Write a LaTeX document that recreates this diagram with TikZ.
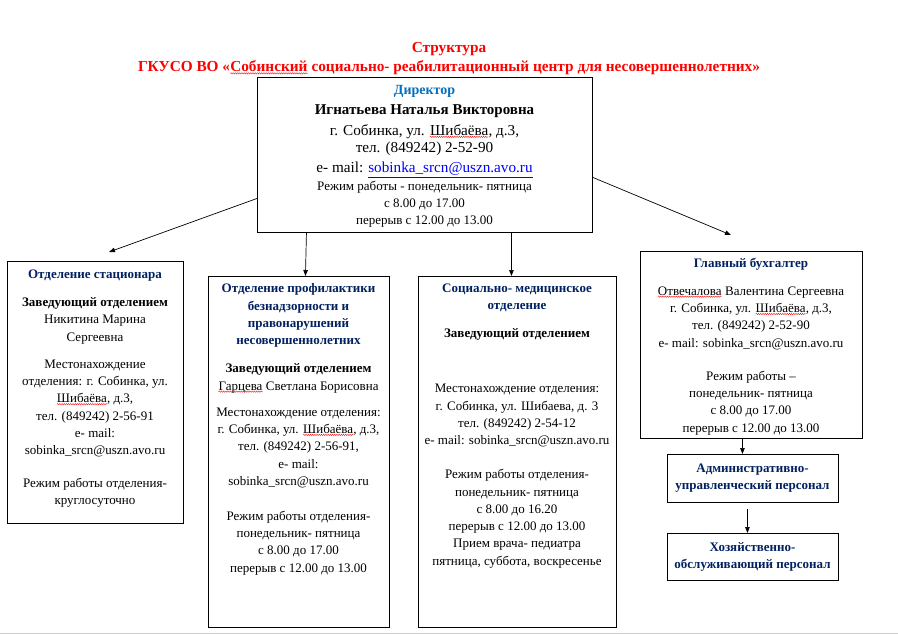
\documentclass[tikz,border=0pt]{standalone}
\usepackage{fontspec}
\setmainfont{Liberation Serif}
\usetikzlibrary{arrows.meta,decorations.pathmorphing}
\definecolor{navyc}{RGB}{0,32,96}
\definecolor{dirblue}{RGB}{0,112,192}
\definecolor{linkblue}{RGB}{0,0,255}
\newcommand\wavy[1]{\tikz[baseline=(wv.base)]{\node[inner sep=0pt,outer sep=0pt](wv){#1};\draw[red,line width=0.35pt,decorate,decoration={snake,amplitude=0.7pt,segment length=2.2pt}]([yshift=-1.5pt]wv.base west)--([yshift=-1.5pt]wv.base east);}}
\newcommand\hd[1]{{\bfseries\color{navyc}#1}}
\tikzset{
  box/.style={draw,line width=0.9pt,inner sep=0pt,anchor=north west},
  txt/.style={align=center,inner sep=0pt,anchor=north,font=\fontsize{13}{17.3}\selectfont},
  conn/.style={line width=0.7pt,-{Triangle[length=6pt,width=4.5pt]}},
  ttl/.style={inner sep=0pt,text=red,font=\fontsize{15.3}{18}\selectfont\bfseries}
}
\begin{document}
\begin{tikzpicture}[x=1pt,y=-1pt]
\useasboundingbox (0,0) rectangle (898,635);
\fill[white] (0,0) rectangle (898,635);
\draw[black!20,line width=1.2pt] (0,633.5) -- (898,633.5);

% titles
\node[ttl] (t1) at (449,49) {Структура};
\node[ttl] (t2) at (449,68) {ГКУСО ВО «\wavy{Собинский} социально- реабилитационный центр для несовершеннолетних»};

% boxes
\node[box,minimum width=335pt,minimum height=155pt] (dir) at (257,77) {};
\node[box,minimum width=176pt,minimum height=262pt] (b1) at (7,261) {};
\node[box,minimum width=181pt,minimum height=351pt] (b2) at (208,276) {};
\node[box,minimum width=198pt,minimum height=351pt] (b3) at (418,276) {};
\node[box,minimum width=222pt,minimum height=187pt] (b4) at (640,251) {};
\node[box,minimum width=171pt,minimum height=48pt] (b5) at (667,454) {};
\node[box,minimum width=171pt,minimum height=47pt] (b6) at (667,533) {};

% director text
\node[txt,font=\fontsize{13}{17}\selectfont] (dirt) at (424.5,85) {%
{\fontsize{14}{17}\selectfont\bfseries\color{dirblue}Директор}\\[3pt]
{\fontsize{15}{17}\selectfont\bfseries Игнатьева Наталья Викторовна}\\[4pt]
{\fontsize{15.2}{17}\selectfont г. Собинка, ул. \wavy{Шибаёва}, д.3,}\\[0.5pt]
{\fontsize{15.2}{17}\selectfont тел. (849242) 2-52-90}\\[3pt]
{\fontsize{15.2}{17}\selectfont e- mail: {\color{linkblue}\underline{sobinka\_srcn@uszn.avo.ru}}}\\[0.5pt]
Режим работы - понедельник- пятница\\
с 8.00 до 17.00\\
перерыв с 12.00 до 13.00};

% box 1
\node[txt] (b1t) at (95,269.7) {%
\hd{Отделение стационара}\\[10.7pt]
\textbf{Заведующий отделением}\\
Никитина Марина\\
Сергеевна\\[9.7pt]
Местонахождение\\
отделения: г. Собинка, ул.\\
\wavy{Шибаёва}, д.3,\\
тел. (849242) 2-56-91\\
e- mail:\\
sobinka\_srcn@uszn.avo.ru\\[15.7pt]
Режим работы отделения-\\
круглосуточно};

% box 2
\node[txt] (b2t) at (298.5,283.7) {%
\hd{Отделение профилактики}\\
\hd{безнадзорности и}\\
\hd{правонарушений}\\
\hd{несовершеннолетних}\\[10.7pt]
\textbf{Заведующий отделением}\\
\wavy{Гарцева} Светлана Борисовна\\[8.7pt]
Местонахождение отделения:\\
г. Собинка, ул. \wavy{Шибаёва}, д.3,\\
тел. (849242) 2-56-91,\\
e- mail:\\
sobinka\_srcn@uszn.avo.ru\\[17.7pt]
Режим работы отделения-\\
понедельник- пятница\\
с 8.00 до 17.00\\
перерыв с 12.00 до 13.00};

% box 3
\node[txt] (b3t) at (517,283.7) {%
\hd{Социально- медицинское}\\
\hd{отделение}\\[10.7pt]
\textbf{Заведующий отделением}\\[37.7pt]
Местонахождение отделения:\\
г. Собинка, ул. Шибаева, д. 3\\
тел. (849242) 2-54-12\\
e- mail: sobinka\_srcn@uszn.avo.ru\\[16.7pt]
Режим работы отделения-\\
понедельник- пятница\\
с 8.00 до 16.20\\
перерыв с 12.00 до 13.00\\
Прием врача- педиатра\\
пятница, суббота, воскресенье};

% box 4
\node[txt] (b4t) at (751,257.7) {%
\hd{Главный бухгалтер}\\[10.7pt]
\wavy{Отвечалова} Валентина Сергеевна\\
г. Собинка, ул. \wavy{Шибаёва}, д.3,\\
тел. (849242) 2-52-90\\
e- mail: sobinka\_srcn@uszn.avo.ru\\[15.7pt]
Режим работы –\\
понедельник- пятница\\
с 8.00 до 17.00\\
перерыв с 12.00 до 13.00};

% box 5, 6
\node[txt,font=\fontsize{13}{17}\selectfont] (b5t) at (752.5,463.5) {\hd{Административно-}\\ \hd{управленческий персонал}};
\node[txt,font=\fontsize{13}{17}\selectfont] (b6t) at (752.5,542.7) {\hd{Хозяйственно-}\\ \hd{обслуживающий персонал}};

% connectors
\coordinate (tip1) at (109,252);
\coordinate (tip4) at (731,235);
\draw[conn] ([yshift=-43.5pt]dir.west) -- (tip1);
\draw[conn] ([xshift=-118.5pt]dir.south) -- ([xshift=6.5pt]b2.north);
\draw[conn] ([xshift=86.5pt]dir.south) -- ([xshift=-6pt]b3.north);
\draw[conn] ([yshift=-22.5pt]dir.east) -- (tip4);
\draw[conn] ([xshift=-9pt]b4.south) -- ([xshift=-10.5pt]b5.north);
\draw[conn] ([xshift=-5.5pt,yshift=-6pt]b5.south) -- ([xshift=-5.5pt]b6.north);
\end{tikzpicture}
\end{document}
